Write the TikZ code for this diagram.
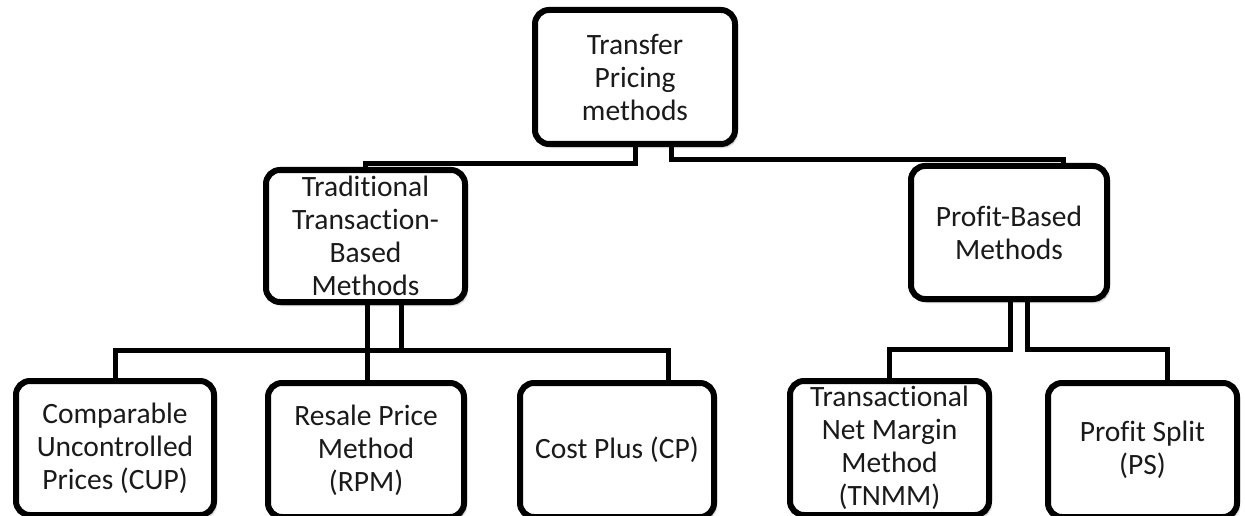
\documentclass[tikz,border=0pt]{standalone}
\usepackage{fontspec}
\setmainfont{Carlito}[Ligatures=NoCommon]
\usetikzlibrary{shadows.blur}

\definecolor{inkgray}{HTML}{1A1A1A}

\tikzset{
  box/.style={draw=black, line width=6pt, rounded corners=14pt, fill=white,
    inner sep=0pt, align=center, text=inkgray, font=\fontsize{29.5}{33}\selectfont,
    blur shadow={shadow xshift=2pt, shadow yshift=-3pt, shadow blur steps=6, shadow opacity=35}},
  conn/.style={draw=black, line width=5pt, line cap=rect}
}

\begin{document}
\begin{tikzpicture}[x=1pt, y=-1pt]
  \useasboundingbox (0,0) rectangle (1245,516);
  \clip (0,0) rectangle (1245,516);

  % top level
  \node[box, minimum width=200pt, minimum height=134pt] (top) at (635,77)
    {Transfer\\Pricing\\methods};

  % second level
  \node[box, minimum width=199pt, minimum height=132pt] (trad) at (365.5,236)
    {Traditional\\Transaction-\\Based\\Methods};
  \node[box, minimum width=196pt, minimum height=133pt] (profit) at (1009,232.5)
    {Profit-Based\\Methods};

  % third level
  \node[box, minimum width=198pt, minimum height=134pt] (cup) at (115,448)
    {Comparable\\Uncontrolled\\Prices (CUP)};
  \node[box, minimum width=196pt, minimum height=134pt] (rpm) at (366,450)
    {Resale Price\\Method\\(RPM)};
  \node[box, minimum width=194pt, minimum height=134pt] (cp) at (617,450)
    {Cost Plus (CP)};
  \node[box, minimum width=199pt, minimum height=134pt] (tnmm) at (889.5,448)
    {Transactional\\Net Margin\\Method\\(TNMM)};
  \node[box, minimum width=189pt, minimum height=134pt] (ps) at (1142.5,450)
    {Profit Split\\(PS)};

  % top -> second level
  \draw[conn] (top.south) -- ++(0,17) -| (trad.north);
  \draw[conn] ([xshift=36pt]top.south) -- ++(0,13) -| ([xshift=54pt]profit.north);

  % traditional -> its methods
  \draw[conn] ([xshift=1.5pt]trad.south) -- ([xshift=1.5pt]trad.south |- rpm.north);
  \draw[conn] ([xshift=36pt]trad.south) -- ++(0,45) -| (cup.north);
  \draw[conn] ([xshift=36pt]trad.south) -- ++(0,45) -| ([xshift=51pt]cp.north);

  % profit-based -> its methods
  \draw[conn] ([xshift=1pt]profit.south) -- ++(0,47) -| (tnmm.north);
  \draw[conn] ([xshift=18pt]profit.south) -- ++(0,47) -| ([xshift=25pt]ps.north);
\end{tikzpicture}
\end{document}
